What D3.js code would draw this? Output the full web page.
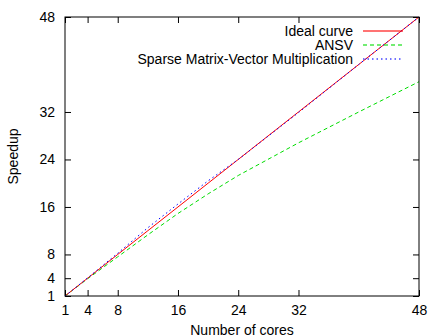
<!DOCTYPE html>
<html>
<head>
<meta charset="utf-8">
<script src="https://cdn.jsdelivr.net/npm/d3@7"></script>
<style>
  body { margin: 0; background: #fff; }
  svg { font-family: "Liberation Sans", Arial, sans-serif; }
</style>
</head>
<body>
<div id="chart"></div>
<script>
// values
let cores = [1, 2, 4, 8, 12, 16, 20, 24, 32, 40, 48];
let ideal = [1, 2, 4, 8, 12, 16, 20, 24, 32, 40, 48];
let ansv = [1, 1.97, 3.9, 7.6, 11.3, 14.9, 18.2, 21.3, 26.8, 32.0, 37.1];
let spmv = [1, 2, 4.05, 8.2, 12.5, 16.5, 20.4, 24, 31.9, 40, 48];
let tickVals = [1, 4, 8, 16, 24, 32, 48];

let series = [
    {name: "Ideal curve", values: ideal, color: "#ff0000", dash: null},
    {name: "ANSV", values: ansv, color: "#00dd00", dash: "4,3"},
    {name: "Sparse Matrix-Vector Multiplication", values: spmv, color: "#0000ff", dash: "1.5,3"}
];

let width = 429, height = 336;
let plotL = 65, plotR = 419, plotT = 17, plotB = 296;
let fontSize = 14;

let svg = d3.select("#chart").append("svg")
    .attr("width", width)
    .attr("height", height);

let x = d3.scaleLinear().domain([1, 48]).range([plotL, plotR]);
let y = d3.scaleLinear().domain([1, 48]).range([plotB, plotT]);

// axes with inward ticks, mirrored on top and right
let axisStyle = (g) => {
    g.select(".domain").remove();
    g.selectAll("line").attr("stroke", "#000");
    g.selectAll("text").attr("font-size", fontSize).attr("fill", "#000");
};

svg.append("g")
    .attr("transform", "translate(0," + plotB + ")")
    .call(d3.axisBottom(x).tickValues(tickVals).tickSizeInner(-6).tickSizeOuter(0).tickPadding(9))
    .call(axisStyle);

svg.append("g")
    .attr("transform", "translate(" + plotL + ",0)")
    .call(d3.axisLeft(y).tickValues(tickVals).tickSizeInner(-6).tickSizeOuter(0).tickPadding(10))
    .call(axisStyle);

svg.append("g")
    .attr("transform", "translate(0," + plotT + ")")
    .call(d3.axisTop(x).tickValues(tickVals).tickSizeInner(-6).tickSizeOuter(0).tickFormat(""))
    .call(axisStyle);

svg.append("g")
    .attr("transform", "translate(" + plotR + ",0)")
    .call(d3.axisRight(y).tickValues(tickVals).tickSizeInner(-6).tickSizeOuter(0).tickFormat(""))
    .call(axisStyle);

let line = d3.line()
    .x((d, i) => x(cores[i]))
    .y((d) => y(d));

// green first, then red, blue dots on top
let order = [1, 0, 2];
order.forEach((k) => {
    let s = series[k];
    svg.append("path")
        .attr("d", line(s.values))
        .attr("fill", "none")
        .attr("stroke", s.color)
        .attr("stroke-width", 1)
        .attr("stroke-dasharray", s.dash);
});

// frame
svg.append("rect")
    .attr("x", plotL)
    .attr("y", plotT)
    .attr("width", plotR - plotL)
    .attr("height", plotB - plotT)
    .attr("fill", "none")
    .attr("stroke", "#000")
    .attr("stroke-width", 1);

// legend
let legend = svg.append("g");
series.forEach((s, i) => {
    let ly = 31 + i * 14;
    legend.append("text")
        .attr("x", 353)
        .attr("y", ly)
        .attr("dy", "0.35em")
        .attr("text-anchor", "end")
        .attr("font-size", fontSize)
        .text(s.name);
    legend.append("line")
        .attr("x1", 363)
        .attr("x2", 403)
        .attr("y1", ly)
        .attr("y2", ly)
        .attr("stroke", s.color)
        .attr("stroke-opacity", 0.55)
        .attr("stroke-width", 2)
        .attr("stroke-dasharray", s.dash);
});

// axis titles
svg.append("text")
    .attr("x", (plotL + plotR) / 2)
    .attr("y", 335)
    .attr("text-anchor", "middle")
    .attr("font-size", fontSize)
    .text("Number of cores");

svg.append("text")
    .attr("transform", "translate(18," + ((plotT + plotB) / 2) + ") rotate(-90)")
    .attr("text-anchor", "middle")
    .attr("font-size", fontSize)
    .text("Speedup");
</script>
</body>
</html>
